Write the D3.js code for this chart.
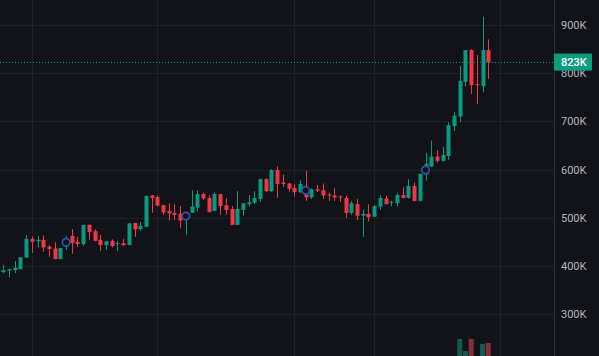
<!DOCTYPE html>
<html>
<head>
<meta charset="utf-8">
<script src="https://cdn.jsdelivr.net/npm/d3@7"></script>
<style>
  html, body { margin: 0; padding: 0; background: #121318; overflow: hidden; }
  svg { display: block; }
</style>
</head>
<body>
<svg id="chart" width="599" height="356"></svg>
<script>
// ---- data (prices in thousands) ----
const opens  = [387,390,391,393,417,456,451,454,440,436,414,440,462,450,445,485,472,454,443,452,445,447,443,489,476,481,546,543,526,514,510,508,495,510,521,549,541,514,549,526,518,485,516,528,531,539,580,555,599,573,571,562,553,548,542,559,557,548,546,544,541,510,528,504,508,502,523,540,531,530,547,541,566,535,590,606,627,618,628,690,710,782,848,777,773,848];
const highs  = [402,394,410,418,464,461,462,463,443,449,437,462,476,460,485,486,476,464,452,455,452,456,489,489,491,546,547,546,527,530,528,524,512,557,557,552,546,552,549,540,524,555,530,547,555,581,582,601,606,589,572,570,578,597,561,568,571,552,561,546,545,535,539,517,528,526,547,545,535,552,563,580,573,591,635,660,640,647,698,719,815,848,850,838,917,870];
const lows   = [385,376,385,393,417,427,438,429,419,414,414,433,425,440,441,454,451,431,433,438,431,441,443,460,473,480,510,524,506,494,495,478,465,510,512,537,510,514,506,506,485,485,504,523,528,533,553,553,541,564,554,544,551,535,539,553,539,535,535,533,500,506,495,460,492,502,516,528,524,523,540,539,534,534,577,605,614,617,620,680,699,772,757,736,760,788];
const closes = [391,393,396,418,456,450,454,438,435,414,437,452,447,445,485,470,452,443,451,441,447,443,488,476,483,545,541,525,511,509,506,494,509,523,549,540,512,549,524,516,485,518,530,532,541,580,555,599,570,570,560,553,570,542,559,556,546,546,542,542,510,530,504,508,501,524,541,528,533,547,541,566,535,591,612,627,618,630,692,712,784,848,775,775,848,823];
// volume visible only for the last candles (index -> value)
const volumeIndex  = [80, 81, 82, 84, 85];
const volumeValues = [17, 5, 17, 12, 13];
const priceTicks = [300, 400, 500, 600, 700, 800, 900];
const timeGridIndex = [5, 27, 51, 65, 87];
const markerIndex = [11, 32, 53, 74];
const markerPrice = [449, 503.5, 556.7, 599];
const lastPrice = 823;

// ---- layout ----
const W = 599, H = 356, plotRight = 554;
const bg = "#121318", up = "#089981", down = "#f23645";
const svg = d3.select("#chart");
svg.append("rect").attr("width", W).attr("height", H).attr("fill", bg);

const x = d3.scaleLinear().domain([0, 85]).range([3.3, 488.3]);
const y = d3.scaleLinear().domain([300, 900]).range([314, 25]);
const vy = d3.scaleLinear().domain([0, 17]).range([356, 339]);

const candles = opens.map((o, i) => ({ i, o, h: highs[i], l: lows[i], c: closes[i] }));

// grid
const grid = svg.append("g").attr("stroke", "#1f2128").attr("stroke-width", 1);
grid.selectAll("line.h").data(priceTicks).join("line").attr("class", "h")
  .attr("x1", 0).attr("x2", plotRight)
  .attr("y1", d => Math.round(y(d)) + 0.5).attr("y2", d => Math.round(y(d)) + 0.5);
grid.selectAll("line.v").data(timeGridIndex).join("line").attr("class", "v")
  .attr("y1", 0).attr("y2", H)
  .attr("x1", d => Math.round(x(d)) + 0.5).attr("x2", d => Math.round(x(d)) + 0.5);

// volume
svg.append("g").selectAll("rect").data(volumeIndex).join("rect")
  .attr("x", d => x(d) - 2.5).attr("width", 5)
  .attr("y", (d, k) => vy(volumeValues[k]))
  .attr("height", (d, k) => H - vy(volumeValues[k]))
  .attr("fill", d => closes[d] >= opens[d] ? "#16594d" : "#83303a");

// candles
const cg = svg.append("g");
cg.selectAll("line").data(candles).join("line")
  .attr("x1", d => Math.round(x(d.i)) + 0.5).attr("x2", d => Math.round(x(d.i)) + 0.5)
  .attr("y1", d => y(d.h)).attr("y2", d => y(d.l))
  .attr("stroke", d => d.c >= d.o ? up : down).attr("stroke-width", 1);
cg.selectAll("rect").data(candles).join("rect")
  .attr("x", d => Math.round(x(d.i)) - 1.5).attr("width", 4)
  .attr("y", d => y(Math.max(d.o, d.c)))
  .attr("height", d => Math.max(1, Math.abs(y(d.o) - y(d.c))))
  .attr("fill", d => d.c >= d.o ? up : down);

// markers
svg.append("g").selectAll("circle").data(markerIndex).join("circle")
  .attr("cx", d => x(d)).attr("cy", (d, k) => y(markerPrice[k]))
  .attr("r", 3.7).attr("fill", bg).attr("stroke", "#2c52b0").attr("stroke-width", 1.7);

// last price line
svg.append("line")
  .attr("x1", 0).attr("x2", plotRight)
  .attr("y1", Math.round(y(lastPrice)) + 0.5).attr("y2", Math.round(y(lastPrice)) + 0.5)
  .attr("stroke", up).attr("stroke-width", 1).attr("stroke-dasharray", "1 2");

// right axis
svg.append("line").attr("x1", plotRight + 0.5).attr("x2", plotRight + 0.5)
  .attr("y1", 0).attr("y2", H).attr("stroke", "#2a2d35");
const axis = d3.axisRight(y).tickValues(priceTicks).tickFormat(d => d + "K").tickSize(0).tickPadding(7);
const ag = svg.append("g").attr("transform", `translate(${plotRight},0)`).call(axis);
ag.select(".domain").remove();
ag.selectAll("text").attr("fill", "#b2b5be").style("font-family", "Roboto, 'Liberation Sans', sans-serif").style("font-size", "11px");

// last price label
const ly = y(lastPrice);
svg.append("rect").attr("x", plotRight).attr("y", ly - 8.5).attr("width", 38).attr("height", 17).attr("fill", "#0c9c7e");
svg.append("text").attr("x", plotRight + 7).attr("y", ly).attr("dy", "0.35em")
  .attr("fill", "#ffffff").style("font-family", "Roboto, 'Liberation Sans', sans-serif").style("font-size", "11px")
  .style("font-weight", 500)
  .text(lastPrice + "K");
</script>
</body>
</html>
